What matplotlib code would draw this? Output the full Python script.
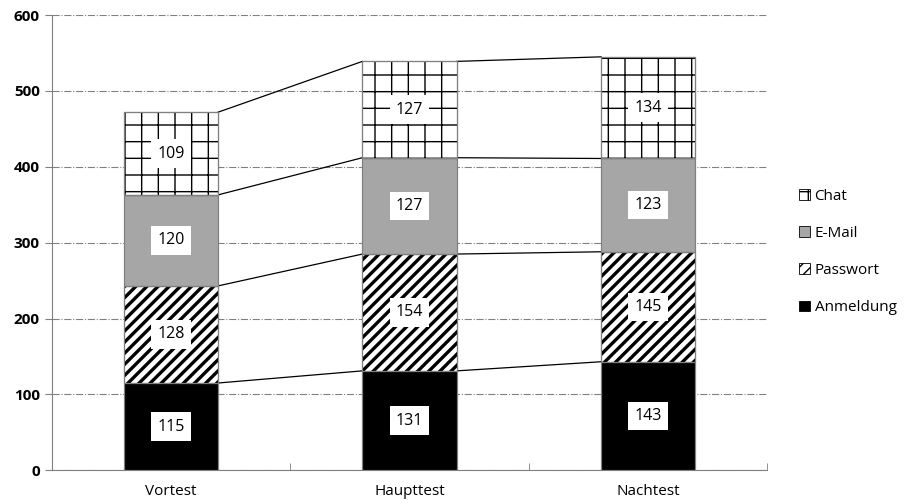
import numpy as np
import matplotlib.pyplot as plt
from matplotlib.patches import Patch

plt.rcParams['font.family'] = ['Open Sans', 'DejaVu Sans']

tests = ['Vortest', 'Haupttest', 'Nachtest']
anmeldung = [115, 131, 143]
passwort = [128, 154, 145]
email = [120, 127, 123]
chat = [109, 127, 134]

series = [
    ('Anmeldung', anmeldung, dict(color='black', hatch=None)),
    ('Passwort', passwort, dict(color='white', hatch='///')),
    ('E-Mail', email, dict(color='#a6a6a6', hatch=None)),
    ('Chat', chat, dict(color='white', hatch='+')),
]

fig = plt.figure(figsize=(9.05, 5.04), dpi=100)
ax = fig.add_axes([0.057, 0.067, 0.791, 0.903])

x = np.arange(len(tests))
w = 0.395
bottom = np.zeros(len(tests))
handles = []
for name, vals, st in series:
    vals = np.array(vals)
    plt.rcParams['hatch.linewidth'] = 2.4 if name == 'Passwort' else 1.0
    ax.bar(x, vals, w, bottom=bottom, color=st['color'], hatch=st['hatch'],
           edgecolor='black' if st['hatch'] else '#808080', linewidth=0.8, zorder=3)
    # gray outline on top of hatching
    ax.bar(x, vals, w, bottom=bottom, fill=False, edgecolor='#808080', linewidth=0.8, zorder=4)
    for xi, b, v in zip(x, bottom, vals):
        ax.text(xi, b + v / 2, str(v), ha='center', va='center', fontsize=11.5, zorder=6,
                bbox=dict(facecolor='white', edgecolor='none', pad=4.5))
    top = bottom + vals
    # series lines between bars
    for i in range(len(tests) - 1):
        ax.plot([x[i] + w / 2, x[i + 1] - w / 2], [top[i], top[i + 1]],
                color='black', lw=0.9, zorder=2)
    handles.append(Patch(facecolor=st['color'], hatch=st['hatch'], edgecolor='black',
                         linewidth=0.6, label=name))
    bottom = top

plt.rcParams['hatch.linewidth'] = 1.0
ax.set_xlim(-0.5, 2.5)
ax.set_ylim(0, 600)
ax.set_yticks(range(0, 601, 100))
ax.set_xticks(x)
ax.set_xticklabels(tests, fontsize=11)
ax.set_xticks([0.5, 1.5, 2.5], minor=True)
ax.tick_params(axis='x', which='both', direction='in', length=5, color='#808080', pad=10)
ax.tick_params(axis='y', direction='out', length=5, color='#808080', labelsize=11)
for lab in ax.get_yticklabels():
    lab.set_fontweight('bold')
ax.grid(axis='y', color='#808080', linestyle='-.', linewidth=0.8, zorder=0)
for s in ['top', 'right']:
    ax.spines[s].set_visible(False)
for s in ['left', 'bottom']:
    ax.spines[s].set_color('#808080')

fig.legend(handles=handles[::-1], loc='center left', bbox_to_anchor=(0.868, 0.5),
           frameon=False, fontsize=11, handlelength=0.7, handleheight=0.7,
           handletextpad=0.3, labelspacing=1.45)

fig.savefig('out.png', dpi=100)
